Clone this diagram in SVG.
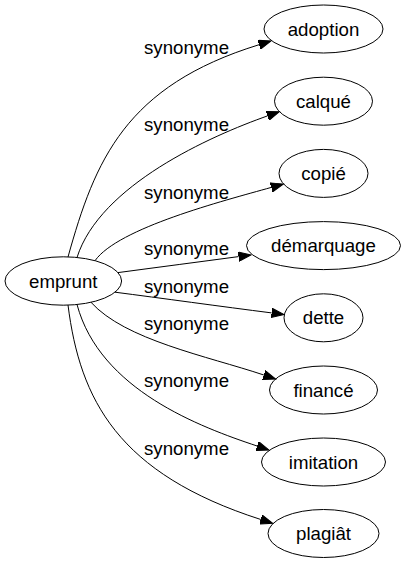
<svg xmlns="http://www.w3.org/2000/svg" width="408" height="563" viewBox="0 0 408 563">
<defs>
<style>
.node ellipse{fill:none;stroke:#000;stroke-width:1}
text{font-family:"Liberation Sans",Arial,sans-serif;font-size:18.67px;fill:#000;text-anchor:middle}
.edges path{fill:none;stroke:#000;stroke-width:1;marker-end:url(#arr)}
</style>
<marker id="arr" markerUnits="userSpaceOnUse" markerWidth="14" markerHeight="10" refX="0" refY="5" orient="auto" viewBox="0 0 14 10">
<path d="M0,0.3 L12.5,5 L0,9.7 Z" fill="#000" stroke="#000" stroke-width="1"/>
</marker>
</defs>
<rect width="408" height="563" fill="#fff"/>
<g id="edges" class="edges">
<path d="M68,257 C95,160 125.4,85.9 259.1,44.7"/>
<path d="M77,257.5 C100,185 210.9,135.9 267.5,115.9"/>
<path d="M95,260.7 C118,228 223.2,200.9 271.3,187.4"/>
<path d="M118,272.6 C160,267 199,261.9 238.6,256.6"/>
<path d="M115,292.2 C160,298 222,306.6 271.6,312.9"/>
<path d="M91,302.3 C125,340 206.9,356 263.8,375"/>
<path d="M77,304.5 C100,390 200.2,427 257.1,446"/>
<path d="M68,305 C80,400 118,473.6 260.8,519.5"/>
<text x="186.5" y="54">synonyme</text>
<text x="186.5" y="130.5">synonyme</text>
<text x="186.5" y="199">synonyme</text>
<text x="186.5" y="255">synonyme</text>
<text x="186.5" y="292.5">synonyme</text>
<text x="186.5" y="330">synonyme</text>
<text x="186.5" y="387">synonyme</text>
<text x="186.5" y="455">synonyme</text>
</g>
<g id="emprunt" class="node"><ellipse cx="63.3" cy="281" rx="58.3" ry="24.2"/><text x="63.3" y="287.5">emprunt</text></g>
<g id="adoption" class="node"><ellipse cx="323.5" cy="29" rx="59.5" ry="24"/><text x="323.5" y="35.5">adoption</text></g>
<g id="calque" class="node"><ellipse cx="323.5" cy="101.2" rx="49" ry="24"/><text x="323.5" y="107.7">calqué</text></g>
<g id="copie" class="node"><ellipse cx="323.5" cy="173.4" rx="44.5" ry="24"/><text x="323.5" y="179.9">copié</text></g>
<g id="demarquage" class="node"><ellipse cx="323.5" cy="245.6" rx="77" ry="24"/><text x="323.5" y="252.1">démarquage</text></g>
<g id="dette" class="node"><ellipse cx="323.5" cy="317.8" rx="39.5" ry="24"/><text x="323.5" y="324.3">dette</text></g>
<g id="finance" class="node"><ellipse cx="323.5" cy="390" rx="54" ry="24"/><text x="323.5" y="396.5">financé</text></g>
<g id="imitation" class="node"><ellipse cx="323.5" cy="462" rx="62" ry="24"/><text x="323.5" y="468.5">imitation</text></g>
<g id="plagiat" class="node"><ellipse cx="323.5" cy="533.5" rx="55.5" ry="24"/><text x="323.5" y="540">plagiât</text></g>
</svg>
